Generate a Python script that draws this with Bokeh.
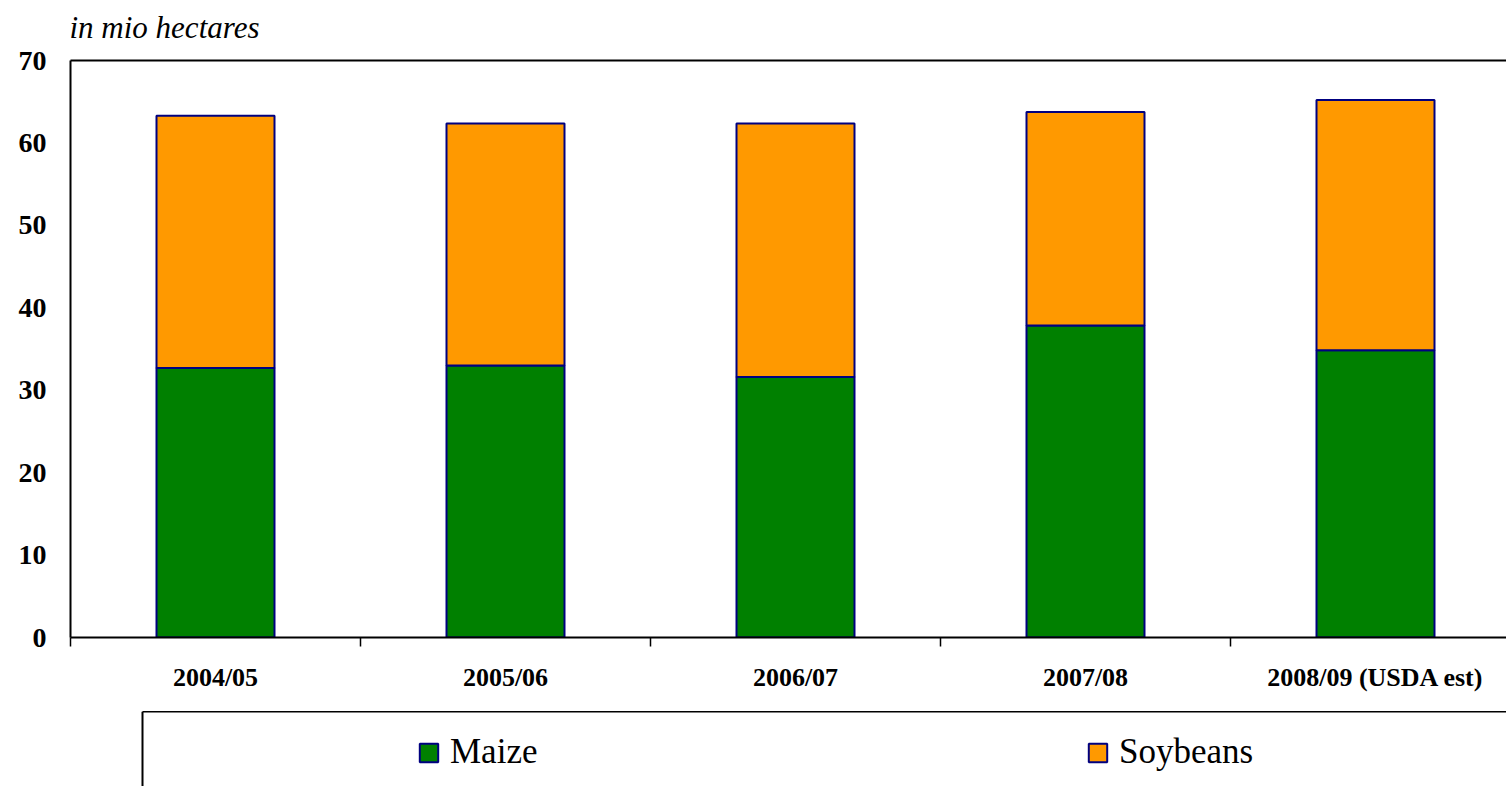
from bokeh.plotting import figure
from bokeh.models import (Range1d, FixedTicker, LinearAxis, Legend, LegendItem,
                          ColumnDataSource, Span, Label)
from bokeh.layouts import column
from bokeh.embed import file_html
from bokeh.resources import INLINE

# ---- data ----
seasons = ["2004/05", "2005/06", "2006/07", "2007/08", "2008/09 (USDA est)"]
maize = [32.7, 33.0, 31.6, 37.85, 34.85]
soybeans = [30.6, 29.35, 30.75, 25.9, 30.35]
y_ticks = [0, 10, 20, 30, 40, 50, 60, 70]
series_names = ["Maize", "Soybeans"]
series_colors = ["#008000", "#FF9900"]
unit_title = "in mio hectares"

FONT = "Liberation Serif"
EDGE = "#000080"

centers = [i + 0.5 for i in range(len(seasons))]
bounds = [float(i) for i in range(len(seasons))]

src = ColumnDataSource(dict(x=centers, Maize=maize, Soybeans=soybeans))


def bare_axis(ax):
    ax.axis_line_color = "black"
    ax.axis_line_width = 2
    ax.major_tick_out = 0
    ax.major_tick_in = 0
    ax.minor_tick_out = 0
    ax.minor_tick_in = 0
    ax.major_label_text_font_size = "0px"
    ax.major_label_standoff = 0
    return ax


def strip(height):
    f = figure(width=1506, height=height, output_backend="svg",
               toolbar_location=None, x_range=Range1d(0, 1436),
               y_range=Range1d(0, height), min_border_left=70,
               min_border_right=0, min_border_top=0, min_border_bottom=0,
               x_axis_type=None, y_axis_type=None)
    f.outline_line_color = None
    f.background_fill_color = "white"
    f.border_fill_color = "white"
    f.xgrid.grid_line_color = None
    f.ygrid.grid_line_color = None
    return f


# ---- title strip ----
t = strip(45)
t.add_layout(Label(x=-1, y=18, text=unit_title, text_baseline="middle",
                   text_font=FONT, text_font_style="italic",
                   text_font_size="31px", text_color="black"))

# ---- main plot ----
p = figure(width=1506, height=666, output_backend="svg", toolbar_location=None,
           x_range=Range1d(0, 1436 / 290), y_range=Range1d(0, 70),
           min_border_left=70, min_border_right=0, min_border_top=15,
           min_border_bottom=74, x_axis_type=None, y_axis_type=None)
p.outline_line_color = None
p.background_fill_color = "white"
p.border_fill_color = "white"

renderers = p.vbar_stack(series_names, x="x", width=118 / 290, source=src,
                         fill_color=series_colors, line_color=EDGE,
                         line_width=2)

# y axis
yax = LinearAxis(ticker=FixedTicker(ticks=y_ticks))
yax.axis_line_color = "black"
yax.axis_line_width = 2
yax.major_tick_out = 0
yax.major_tick_in = 0
yax.minor_tick_out = 0
yax.minor_tick_in = 0
yax.major_label_standoff = 24
yax.major_label_text_font = FONT
yax.major_label_text_font_style = "bold"
yax.major_label_text_font_size = "28px"
yax.major_label_text_color = "black"
p.add_layout(yax, "left")

# x axis
xax = LinearAxis(ticker=FixedTicker(ticks=centers, minor_ticks=bounds))
xax.major_label_overrides = {c: s for c, s in zip(centers, seasons)}
xax.axis_line_color = "black"
xax.axis_line_width = 2
xax.major_tick_out = 0
xax.major_tick_in = 0
xax.minor_tick_out = 9
xax.minor_tick_in = 0
xax.minor_tick_line_color = "black"
xax.minor_tick_line_width = 1.5
xax.major_label_standoff = 16
xax.major_label_text_font = FONT
xax.major_label_text_font_style = "bold"
xax.major_label_text_font_size = "26px"
xax.major_label_text_color = "black"
p.add_layout(xax, "below")

# top border line of plot area
p.add_layout(bare_axis(LinearAxis(ticker=FixedTicker(ticks=[]))), "above")

# grid
p.ygrid.ticker = FixedTicker(ticks=y_ticks)
p.ygrid.grid_line_color = "black"
p.ygrid.grid_line_width = 1.5
p.xgrid.grid_line_color = None

# ---- legend strip (x in pixels from the plot's left edge) ----
q = strip(75)
box_left = 72
top_ax = bare_axis(LinearAxis(ticker=FixedTicker(ticks=[])))
top_ax.bounds = (box_left, 1436)
q.add_layout(top_ax, "above")
q.add_layout(Span(location=box_left, dimension="height", line_color="black",
                  line_width=2))

# legend swatches: non-drawn proxy glyphs carrying the series styles
nan = float("nan")
proxies = [q.vbar(x=[nan], top=[nan], width=1, fill_color=c,
                  line_color=EDGE, line_width=2)
           for c in series_colors]
items = [LegendItem(label=n, renderers=[r]) for n, r in zip(series_names, proxies)]
legend = Legend(items=items, location=(347, 14), orientation="horizontal",
                margin=0, padding=0, spacing=0,
                glyph_width=23, glyph_height=23, label_standoff=10,
                label_width=636, label_height=40,
                label_text_font=FONT, label_text_font_size="35px",
                label_text_color="black",
                border_line_alpha=0, background_fill_alpha=0)
q.add_layout(legend, "center")

layout = column(t, p, q, spacing=0)
open("out.html", "w").write(file_html(layout, INLINE))
